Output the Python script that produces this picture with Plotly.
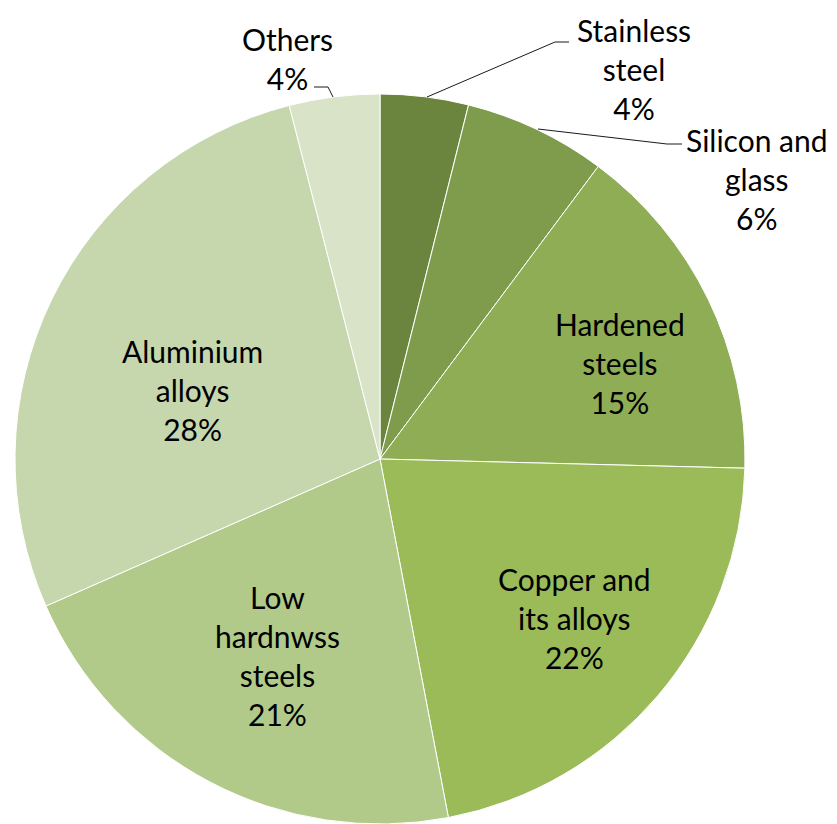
import plotly.graph_objects as go

# page body has an 8px margin; figure is sized to fill the rest of the window
OFF = 8
W, H = 837 - OFF, 824 - OFF

categories = ["Stainless steel", "Silicon and glass", "Hardened steels",
              "Copper and its alloys", "Low hardnwss steels", "Aluminium alloys", "Others"]
label_lines = ["Stainless<br>steel", "Silicon and<br>glass", "Hardened<br>steels",
               "Copper and<br>its alloys", "Low<br>hardnwss<br>steels", "Aluminium<br>alloys", "Others"]
values = [3.9, 6.3, 15.2, 21.6, 21.4, 27.6, 4.0]
colors = ["#6B843E", "#7E9C4B", "#8FAD54", "#9BBB59", "#B1CA8A", "#C6D6AD", "#D8E3C7"]

# label centers in window pixel coordinates (layout only)
label_pos = [(634, 69), (757, 179), (620, 363), (574, 618), (277, 655), (192, 390), (287, 58)]


def px(x):
    return (x - OFF) / W


def py(y):
    return 1 - (y - OFF) / H


fig = go.Figure(go.Pie(
    labels=categories,
    values=values,
    sort=False,
    direction="clockwise",
    rotation=0,
    marker=dict(colors=colors, line=dict(color="white", width=1)),
    textinfo="none",
    hoverinfo="label+percent",
    domain=dict(x=[px(14), px(746)], y=[0, py(94)]),
    showlegend=False,
))

total = sum(values)
annotations = []
for lab, v, (x, y) in zip(label_lines, values, label_pos):
    pct = round(100 * v / total)
    annotations.append(dict(
        x=px(x), y=py(y), xref="paper", yref="paper",
        text=f"{lab}<br>{pct}%", showarrow=False,
        xanchor="center", yanchor="middle",
        font=dict(family="Lato", size=30, color="#000000"),
    ))

leaders = [
    [(427, 97), (555, 42), (569, 42)],
    [(538, 129), (667, 144), (682, 144)],
    [(333, 97), (328, 87), (314, 87)],
]
shapes = []
for pts in leaders:
    path = "M " + " L ".join(f"{px(a)},{py(b)}" for a, b in pts)
    shapes.append(dict(type="path", path=path, xref="paper", yref="paper",
                       line=dict(color="#1a1a1a", width=1)))

fig.update_layout(
    width=W, height=H,
    margin=dict(l=0, r=0, t=0, b=0),
    paper_bgcolor="white",
    plot_bgcolor="white",
    annotations=annotations,
    shapes=shapes,
)

fig.write_html("out.html")
